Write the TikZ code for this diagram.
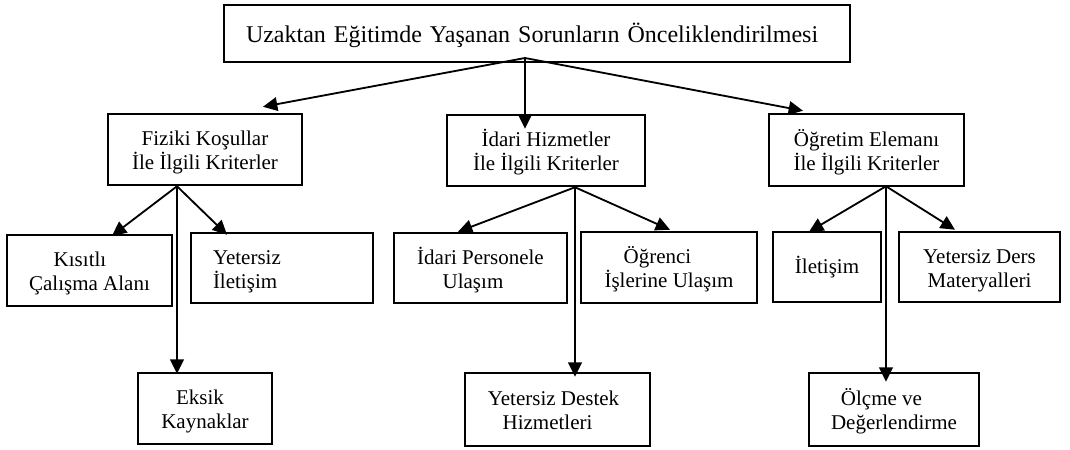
\documentclass[tikz,border=0pt]{standalone}
\usepackage{fontspec}
\setmainfont{Liberation Serif}
\usetikzlibrary{arrows.meta}
\newcommand\bodyfnt{\fontsize{12.6pt}{14.4pt}\selectfont}
\newcommand\titlefnt{\fontsize{14.4pt}{17pt}\selectfont}
\begin{document}
\begin{tikzpicture}[x=0.6pt,y=-0.6pt,
  box/.style={draw, line width=1.5pt, inner xsep=2pt, inner ysep=0pt, align=center, font=\bodyfnt},
  wh/.style 2 args={minimum width=#1*0.6pt, minimum height=#2*0.6pt},
  two/.style={text height=24pt, text depth=0pt},
  twotw/.style={text height=8.4pt, text depth=13.2pt},
  one/.style={text height=8.4pt, text depth=0.6pt},
  arr/.style={line width=1.1pt, -{Triangle[length=8.6pt,width=8.2pt]}}]
\useasboundingbox (0,0) rectangle (1070,449);
% root
\node[box, wh={626}{57}, font=\titlefnt, align=left, text width=582*0.6pt, inner xsep=22*0.6pt, text height=10.2pt, text depth=0pt] (root) at (537,33.5) {Uzaktan Eğitimde Yaşanan Sorunların Önceliklendirilmesi};
% level 2
\node[box, two, wh={194}{71}] (fk) at (205,149.5) {Fiziki Koşullar\\İle İlgili Kriterler};
\node[box, two, wh={198}{71}] (ih) at (546,150.5) {İdari Hizmetler\\İle İlgili Kriterler};
\node[box, two, wh={195}{72}] (oe) at (866.5,150) {Öğretim Elemanı\\İle İlgili Kriterler};
% level 3
\node[box, two, wh={165}{71}] (k1) at (89.5,270.5) {Kısıtlı\hspace*{11.4pt}\\Çalışma Alanı};
\node[box, twotw, wh={182}{70}, align=left, text width=138*0.6pt, inner xsep=22*0.6pt] (k2) at (282,268) {Yetersiz\\İletişim};
\node[box, two, wh={134}{71}] (k3) at (205,408.5) {Eksik\hspace*{6pt}\\Kaynaklar};
\node[box, two, wh={173}{70}] (h1) at (480.5,268) {İdari Personele\\Ulaşım\hspace*{9pt}};
\node[box, two, wh={176}{71}] (h2) at (669,267.5) {Öğrenci\hspace*{13.8pt}\\İşlerine Ulaşım};
\node[box, two, wh={185}{73}] (h3) at (557.5,409.5) {Yetersiz Destek\hspace*{4.8pt}\\Hizmetleri\hspace*{12pt}};
\node[box, one, wh={108}{70}] (o1) at (827,267) {İletişim};
\node[box, two, wh={161}{70}] (o2) at (979.5,267) {Yetersiz Ders\\Materyalleri};
\node[box, two, wh={170}{73}] (o3) at (894,409.5) {Ölçme ve\hspace*{15pt}\\Değerlendirme};
% connectors
\coordinate (ra) at (525,58);
\draw[arr] (ra) -- ([shift={(58,-6)}]fk.north);
\draw[arr] (ra) -- ([shift={(-21,15)}]ih.north);
\draw[arr] (ra) -- ([shift={(-63.5,-2)}]oe.north);
\coordinate (fa) at ([shift={(-28,0)}]fk.south);
\draw[arr] (fa) -- ([shift={(22.5,2)}]k1.north);
\draw[arr] (fa) -- ([shift={(-55,3)}]k2.north);
\draw[arr] (fa) -- ([shift={(-28,2)}]k3.north);
\coordinate (ha) at ([shift={(29,0)}]ih.south);
\draw[arr] (ha) -- ([shift={(-22.5,0)}]h1.north);
\draw[arr] (ha) -- ([shift={(1,-1)}]h2.north);
\draw[arr] (ha) -- ([shift={(17.5,5)}]h3.north);
\coordinate (oa) at ([shift={(19.5,-1)}]oe.south);
\draw[arr] (oa) -- ([shift={(-18,1)}]o1.north);
\draw[arr] (oa) -- ([shift={(-24.5,-1)}]o2.north);
\draw[arr] (oa) -- ([shift={(-8,10)}]o3.north);
\end{tikzpicture}
\end{document}
